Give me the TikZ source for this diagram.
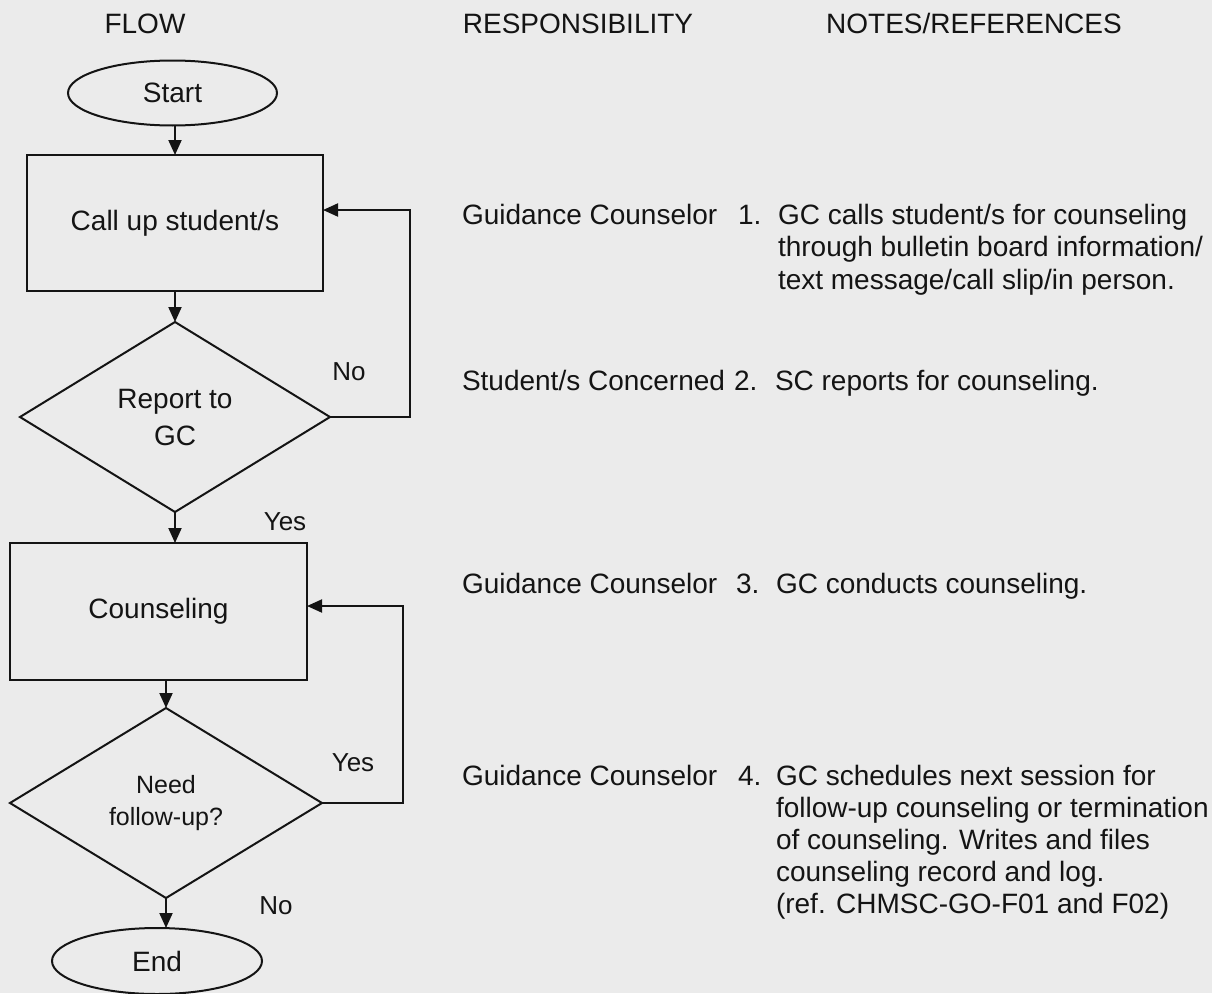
\documentclass[tikz,border=0pt]{standalone}
\usepackage{fontspec}
\setmainfont{Liberation Sans}
\usetikzlibrary{shapes.geometric,arrows.meta}
\definecolor{paper}{RGB}{235,235,235}
\definecolor{ink}{RGB}{20,20,20}
\begin{document}
\begin{tikzpicture}[x=1pt,y=-1pt,
  line width=2pt, draw=ink, text=ink,
  every node/.style={inner sep=0pt, outer sep=0pt},
  txt/.style={font=\fontsize{28}{32}\selectfont},
  lbl/.style={font=\fontsize{26}{30}\selectfont},
  terminal/.style={ellipse, draw, txt, minimum width=209pt, minimum height=65pt},
  process/.style={rectangle, draw, txt, minimum width=296pt, minimum height=136pt},
  decision/.style={diamond, draw, align=center, minimum width=310pt, minimum height=190pt},
  flow/.style={-{Triangle[length=15pt,width=13pt]}, ink},
  col/.style={txt, anchor=base west}
]
% page and paper tone
\fill[paper] (0,0) rectangle (1212,993);
\useasboundingbox (0,0) rectangle (1212,993);

% column headings
\node[txt, anchor=base] (hflow) at (145,33) {FLOW};
\node[txt, anchor=base] (hresp) at (578,33) {RESPONSIBILITY};
\node[txt, anchor=base] (hnotes) at (974,33) {NOTES/REFERENCES};

% flow chart
\node[terminal] (start) at (172.5,93) {Start};
\node[process] (call) at (175,223) {Call up student/s};
\node[decision, font=\fontsize{28}{37}\selectfont] (report) at (175,417) {Report to\\GC};
\node[process, minimum width=297pt, minimum height=137pt] (couns) at (158.5,611.5) {Counseling};
\node[decision, minimum width=312pt, font=\fontsize{25}{32}\selectfont] (follow) at (166,803) {Need\\follow-up?};
\node[terminal, minimum width=210pt, minimum height=66pt] (end) at (157,961) {End};

\draw[flow] (start.south -| call.north) -- (call.north);
\draw[flow] (call.south) -- (report.north);
\draw[flow] (report.south) -- (report.south |- couns.north);
\draw[flow] (follow.north |- couns.south) -- (follow.north);
\draw[flow] (follow.south) -- (follow.south |- end.north);

% loop-backs
\draw[flow] (report.east) -- (410,417) |- ([yshift=13pt]call.east);
\draw[flow] (follow.east) -- (403,803) |- ([yshift=5.5pt]couns.east);

% branch labels
\node[lbl] (no1) at (349,372) {No};
\node[lbl] (yes1) at (285,522) {Yes};
\node[lbl] (yes2) at (353,763) {Yes};
\node[lbl] (no2) at (276,906) {No};

% responsibilities and notes (multi-line notes hang from their first baseline)
\node[col] (r1) at (462,224) {Guidance Counselor};
\node[col] (n1) at (738,224) {1.};
\node[col] (t1) at (778,224) {\vtop{\baselineskip=32.5pt
  \hbox{GC calls student/s for counseling}
  \hbox{through bulletin board information/}
  \hbox{text message/call slip/in person.}}};

\node[col] (r2) at (462,390) {Student/s Concerned};
\node[col] (n2) at (734,390) {2.};
\node[col] (t2) at (775,390) {SC reports for counseling.};

\node[col] (r3) at (462,593) {Guidance Counselor};
\node[col] (n3) at (736,593) {3.};
\node[col] (t3) at (776,593) {GC conducts counseling.};

\node[col] (r4) at (462,785) {Guidance Counselor};
\node[col] (n4) at (738,785) {4.};
\node[col] (t4) at (776,785) {\vtop{\baselineskip=32pt
  \hbox{GC schedules next session for}
  \hbox{follow-up counseling or termination}
  \hbox{of counseling. Writes and files}
  \hbox{counseling record and log.}
  \hbox{(ref. CHMSC-GO-F01 and F02)}}};
\end{tikzpicture}
\end{document}
